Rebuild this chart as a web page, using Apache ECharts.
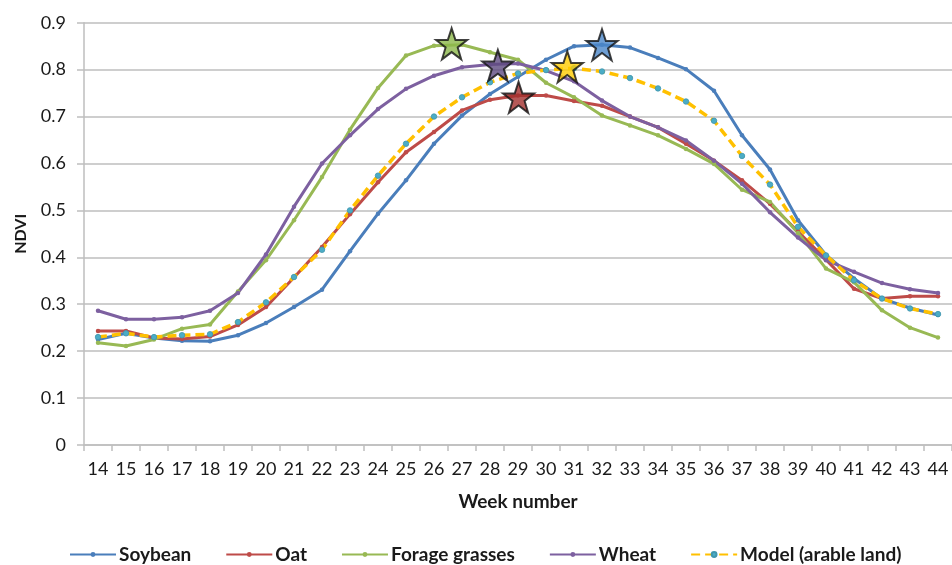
<!DOCTYPE html>
<html>
<head>
<meta charset="utf-8">
<script src="https://cdn.jsdelivr.net/npm/echarts@6/dist/echarts.min.js"></script>
<style>
html,body{margin:0;padding:0;background:#fff;}
#chart{width:952px;height:565px;}
</style>
</head>
<body>
<div id="chart"></div>
<script>
var weeks = ['14','15','16','17','18','19','20','21','22','23','24','25','26','27','28','29','30','31','32','33','34','35','36','37','38','39','40','41','42','43','44'];
var soybean = [0.225,0.238,0.228,0.222,0.221,0.234,0.260,0.294,0.331,0.413,0.493,0.564,0.642,0.702,0.748,0.785,0.821,0.850,0.853,0.847,0.825,0.801,0.755,0.660,0.587,0.479,0.405,0.355,0.312,0.292,0.277];
var oat = [0.243,0.243,0.228,0.226,0.231,0.256,0.294,0.357,0.422,0.492,0.560,0.624,0.667,0.713,0.736,0.745,0.745,0.733,0.723,0.700,0.677,0.642,0.606,0.564,0.514,0.455,0.395,0.333,0.312,0.317,0.317];
var forage = [0.218,0.211,0.225,0.248,0.257,0.327,0.394,0.479,0.571,0.672,0.761,0.830,0.851,0.853,0.837,0.821,0.772,0.741,0.702,0.681,0.660,0.631,0.599,0.544,0.518,0.452,0.376,0.347,0.287,0.250,0.229];
var wheat = [0.286,0.268,0.268,0.272,0.286,0.324,0.406,0.508,0.600,0.660,0.716,0.759,0.787,0.805,0.811,0.813,0.798,0.775,0.734,0.700,0.677,0.649,0.606,0.557,0.496,0.442,0.394,0.369,0.345,0.332,0.324];
var model = [0.230,0.238,0.230,0.234,0.236,0.262,0.304,0.358,0.416,0.500,0.574,0.642,0.700,0.741,0.773,0.792,0.799,0.803,0.796,0.782,0.760,0.732,0.691,0.616,0.555,0.465,0.404,0.351,0.312,0.291,0.279];
// peak stars: [week position, NDVI]
var starWeeks = [26.63, 28.28, 29.02, 30.76, 32.0];
var starValues = [0.855, 0.809, 0.741, 0.806, 0.853];
var starColors = ['#8CB84A','#5E4A80','#A3302D','#FFCC00','#4A86C8'];
var yTicks = {min:0, max:0.9, interval:0.1};

var STAR = 'path://M50,2 L61.8,36 L97.6,36 L68.6,57.6 L79.4,92 L50,71 L20.6,92 L31.4,57.6 L2.4,36 L38.2,36 Z';
var FONT = 'Lato';

function lineSeries(name, data, color){
  return {
    name:name, type:'line', data:data, xAxisIndex:0, yAxisIndex:0,
    symbol:'circle', symbolSize:4.5, showSymbol:true,
    lineStyle:{color:color, width:3},
    itemStyle:{color:color},
    emphasis:{disabled:true}, animation:false
  };
}

var series = [
  lineSeries('Soybean', soybean, '#4A7EBB'),
  lineSeries('Oat', oat, '#BE4B48'),
  lineSeries('Forage grasses', forage, '#98B954'),
  lineSeries('Wheat', wheat, '#7D60A0'),
  {
    name:'Model (arable land)', type:'line', data:model, xAxisIndex:0, yAxisIndex:0,
    symbol:'circle', symbolSize:5.5,
    lineStyle:{color:'#FFC000', width:3.5, type:[9,5]},
    itemStyle:{color:'#4BACC6', borderColor:'#3F96AD', borderWidth:0.8},
    emphasis:{disabled:true}, animation:false
  },
  {
    name:'peaks', type:'scatter', xAxisIndex:1, yAxisIndex:0,
    data: starWeeks.map(function(w,i){ return {value:[w, starValues[i]], itemStyle:{color:starColors[i]}}; }),
    symbol:STAR, symbolSize:31,
    itemStyle:{borderColor:'#111', borderWidth:2},
    z:10, silent:true, animation:false
  }
];

var chart = echarts.init(document.getElementById('chart'), null, {renderer:'canvas'});
chart.setOption({
  backgroundColor:'#ffffff',
  animation:false,
  grid:{left:84, top:22.7, bottom:120, right:-8, containLabel:false},
  legend:{
    data:['Soybean','Oat','Forage grasses','Wheat','Model (arable land)'],
    left:64, top:540, itemGap:34, itemWidth:46, itemHeight:6,
    textStyle:{fontFamily:FONT, fontSize:19, fontWeight:'bold', color:'#1a1a1a', padding:[0,0,0,-2]}
  },
  xAxis:[{
    type:'category', data:weeks, boundaryGap:true,
    axisLine:{lineStyle:{color:'#BEBEBE', width:1.5}},
    axisTick:{show:true, length:6, lineStyle:{color:'#BEBEBE', width:1.5}},
    axisLabel:{fontFamily:FONT, fontSize:18, color:'#1a1a1a', margin:15, interval:0},
    splitLine:{show:false},
    name:'Week number', nameLocation:'middle', nameGap:47,
    nameTextStyle:{fontFamily:FONT, fontSize:19, fontWeight:'bold', color:'#1a1a1a'}
  },{
    type:'value', min:13.5, max:44.5, show:false
  }],
  yAxis:[{
    type:'value', min:yTicks.min, max:yTicks.max, interval:yTicks.interval,
    axisLine:{show:true, lineStyle:{color:'#BEBEBE', width:1.5}},
    axisTick:{show:true, length:7, lineStyle:{color:'#BEBEBE', width:1.5}},
    axisLabel:{fontFamily:FONT, fontSize:18, color:'#1a1a1a', margin:18,
      formatter:function(v){ return v===0 ? '0' : v.toFixed(1); }},
    splitLine:{show:true, lineStyle:{color:'#BEBEBE', width:1.5}},
    name:'NDVI', nameLocation:'middle', nameGap:55, nameRotate:90,
    nameTextStyle:{fontFamily:FONT, fontSize:16, fontWeight:'bold', color:'#1a1a1a'}
  }],
  series:series
});
</script>
</body>
</html>
